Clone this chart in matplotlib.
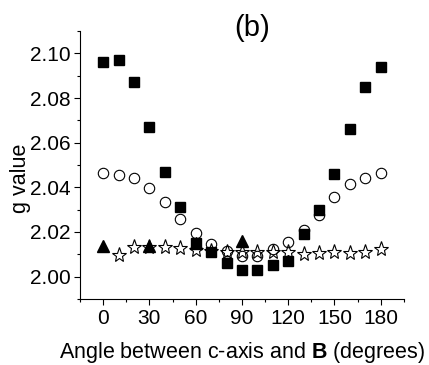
import matplotlib
matplotlib.use("Agg")
import matplotlib.pyplot as plt
from matplotlib.ticker import MultipleLocator, FormatStrFormatter

plt.rcParams['font.family'] = ['Liberation Sans', 'DejaVu Sans']
plt.rcParams['mathtext.fontset'] = 'custom'
plt.rcParams['mathtext.rm'] = 'Liberation Sans'
plt.rcParams['mathtext.bf'] = 'Liberation Sans:bold'

# angle (degrees)
ang_sq = [0, 10, 20, 30, 40, 50, 60, 70, 80, 90, 100, 110, 120, 130, 140, 150, 160, 170, 180]
g_sq = [2.096, 2.097, 2.087, 2.067, 2.047, 2.031, 2.015, 2.011, 2.006, 2.003, 2.003,
        2.005, 2.007, 2.019, 2.030, 2.046, 2.066, 2.085, 2.094]

ang_ci = [0, 10, 20, 30, 40, 50, 60, 70, 80, 90, 100, 110, 120, 130, 140, 150, 160, 170, 180]
g_ci = [2.0463, 2.0457, 2.0440, 2.0396, 2.0336, 2.0258, 2.0195, 2.0146, 2.0116, 2.0094,
        2.0094, 2.0125, 2.0155, 2.0210, 2.0278, 2.0358, 2.0415, 2.0443, 2.0466]

ang_tri = [0, 30, 60, 90]
g_tri = [2.0135, 2.0135, 2.0150, 2.0158]

ang_st = [10, 20, 30, 40, 50, 60, 70, 80, 90, 100, 110, 120, 130, 140, 150, 160, 170, 180]
g_st = [2.0098, 2.0133, 2.0133, 2.0133, 2.0130, 2.0120, 2.0115, 2.0110, 2.0110, 2.0110,
        2.0110, 2.0110, 2.0103, 2.0105, 2.0108, 2.0105, 2.0110, 2.0124]

fig = plt.figure(figsize=(4.29, 3.65), dpi=100)
ax = fig.add_axes([0.1865, 0.181, 0.755, 0.734])

ax.plot(ang_st, g_st, ls='none', marker='*', ms=11, mfc='white', mec='black', mew=0.8, zorder=2)
ax.plot(ang_sq, g_sq, ls='none', marker='s', ms=6.5, color='black', zorder=3)
ax.plot(ang_ci, g_ci, ls='none', marker='o', ms=7.5, mfc='none', mec='black', mew=0.8, zorder=4)
ax.plot(ang_tri, g_tri, ls='none', marker='^', ms=8, color='black', zorder=5)

ax.set_xlim(-15, 195)
ax.set_ylim(1.99, 2.11)
ax.xaxis.set_major_locator(MultipleLocator(30))
ax.xaxis.set_minor_locator(MultipleLocator(15))
ax.yaxis.set_major_locator(MultipleLocator(0.02))
ax.yaxis.set_minor_locator(MultipleLocator(0.01))
ax.yaxis.set_major_formatter(FormatStrFormatter('%.2f'))
ax.spines['top'].set_visible(False)
ax.spines['right'].set_visible(False)
ax.tick_params(which='major', direction='out', length=4, width=0.8, labelsize=15, pad=3)
ax.tick_params(which='minor', direction='out', length=2.5, width=0.8)

ax.set_ylabel('g value', fontsize=15.5)
ax.yaxis.set_label_coords(-0.152, 0.45)
ax.set_xlabel(r'Angle between c-axis and $\mathbf{B}$ (degrees)', fontsize=15.5, labelpad=9)
fig.text(0.587, 0.922, '(b)', fontsize=21, ha='center', va='center')

fig.savefig('out.png', dpi=100)
